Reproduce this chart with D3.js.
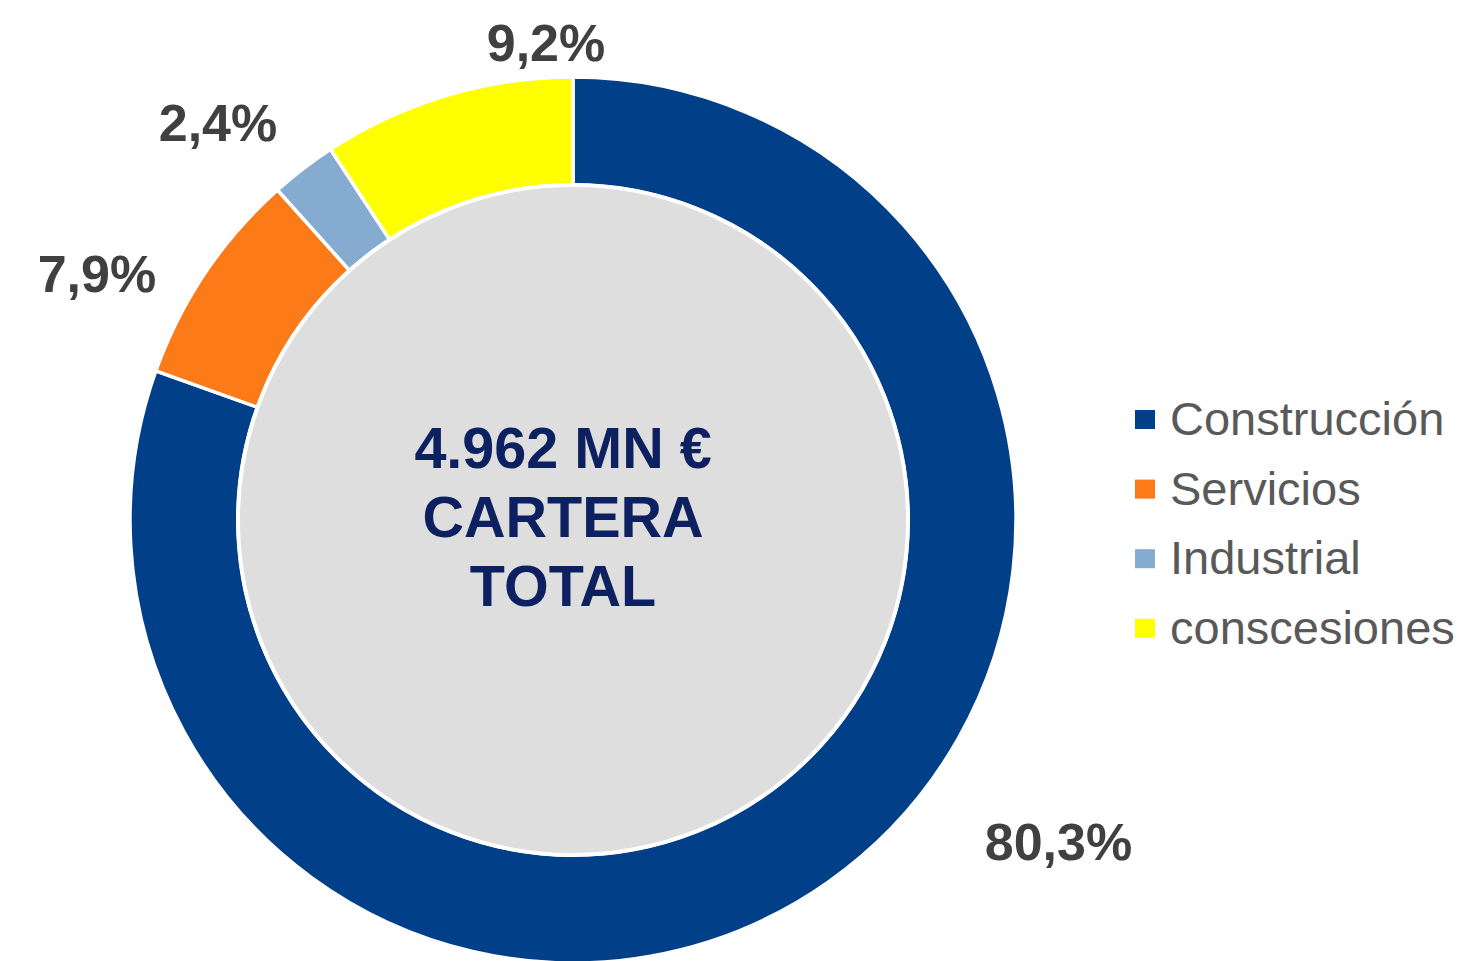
<!DOCTYPE html>
<html>
<head>
<meta charset="utf-8">
<script src="https://cdn.jsdelivr.net/npm/d3@7"></script>
<style>
    body { margin: 0; background: #fff; }
    svg { display: block; font-family: "Liberation Sans", Arial, sans-serif; }
</style>
</head>
<body>
<div id="chart"></div>
<script>
// Data
const categories = ["Construcción", "Servicios", "Industrial", "conscesiones"];
const shares = [80.3, 7.9, 2.4, 9.2];
const colors = ["#013f88", "#fd7a18", "#85acd0", "#ffff00"];
const centerLines = ["4.962 MN €", "CARTERA", "TOTAL"];

const fmt = v => v.toFixed(1).replace(".", ",") + "%";

const width = 1466, height = 961;
const cx = 573, cy = 520;
const outerR = 443, innerR = 335;

// where Excel put each outside label (angle in turns, distance from centre)
const labelPlacement = [
    { turn: 0.343, r: 582 },
    { turn: 0.826, r: 536 },
    { turn: 0.884, r: 533 },
    { turn: 0.991, r: 478 }
];

const svg = d3.select("#chart")
    .append("svg")
    .attr("width", width)
    .attr("height", height);

const g = svg.append("g")
    .attr("transform", `translate(${cx},${cy})`);

const data = categories.map((c, i) => ({ name: c, value: shares[i], color: colors[i] }));

const pie = d3.pie()
    .value(d => d.value)
    .sort(null);

const arc = d3.arc()
    .innerRadius(innerR)
    .outerRadius(outerR);

const arcs = pie(data);

// ring slices
g.selectAll("path.slice")
    .data(arcs)
    .join("path")
    .attr("class", "slice")
    .attr("d", arc)
    .attr("fill", d => d.data.color)
    .attr("stroke", "#fff")
    .attr("stroke-width", 3.5);

// grey centre disc
g.append("circle")
    .attr("r", innerR)
    .attr("fill", "#dedede")
    .attr("stroke", "#fff")
    .attr("stroke-width", 4);

// centre text
g.selectAll("text.center")
    .data(centerLines)
    .join("text")
    .attr("class", "center")
    .attr("x", -10)
    .attr("y", (d, i) => -52 + i * 69)
    .attr("text-anchor", "middle")
    .attr("font-size", 57.5)
    .attr("font-weight", "bold")
    .attr("fill", "#0d2160")
    .text(d => d);

// percentage labels
g.selectAll("text.pct")
    .data(arcs)
    .join("text")
    .attr("class", "pct")
    .attr("transform", (d, i) => {
        const p = labelPlacement[i];
        const [x, y] = d3.pointRadial(p.turn * 2 * Math.PI, p.r);
        return `translate(${x},${y})`;
    })
    .attr("text-anchor", "middle")
    .attr("dy", "0.36em")
    .attr("font-size", 52)
    .attr("font-weight", "bold")
    .attr("fill", "#404040")
    .text(d => fmt(d.data.value));

// legend
const legend = svg.append("g")
    .attr("transform", "translate(1135,418)");

const item = legend.selectAll("g")
    .data(data)
    .join("g")
    .attr("transform", (d, i) => `translate(0,${i * 69.6})`);

item.append("rect")
    .attr("x", 0)
    .attr("y", -8)
    .attr("width", 20)
    .attr("height", 19)
    .attr("fill", d => d.color);

item.append("text")
    .attr("x", 35)
    .attr("y", 17)
    .attr("font-size", 47)
    .attr("fill", "#595959")
    .text(d => d.name);
</script>
</body>
</html>
